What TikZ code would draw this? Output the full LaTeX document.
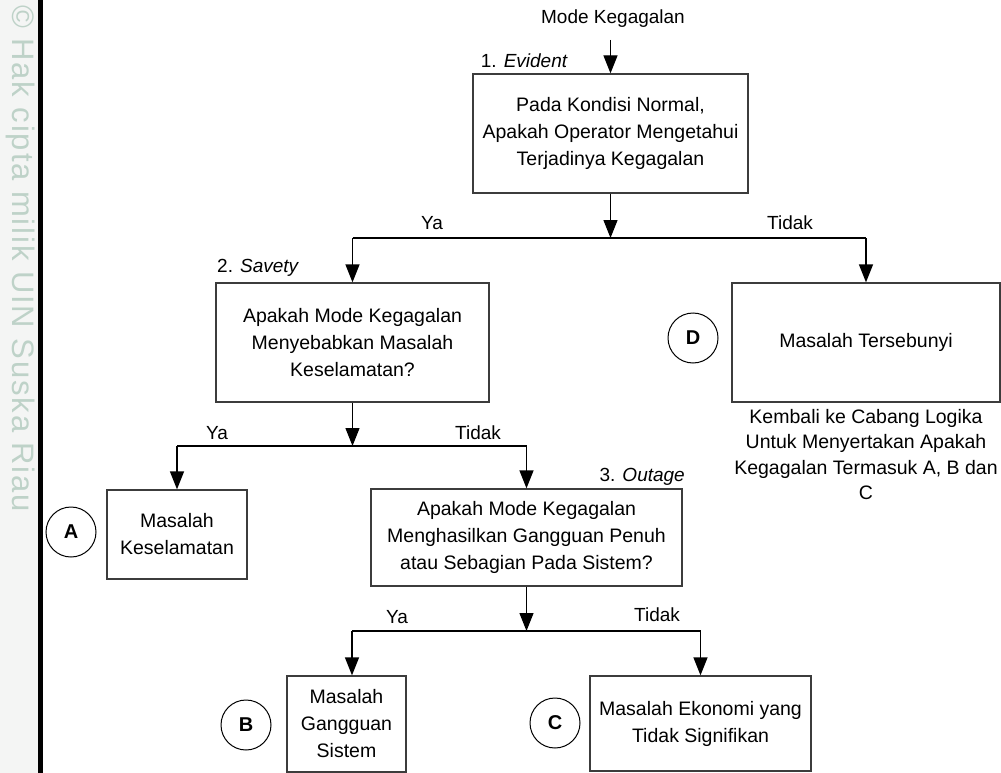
\documentclass[tikz,border=0pt]{standalone}
\usepackage{fontspec}
\setmainfont{Liberation Sans}
\newfontfamily\wmfont[LetterSpace=6]{Liberation Sans}
\usetikzlibrary{arrows.meta,calc}
\definecolor{wmark}{RGB}{190,210,200}
\definecolor{panel}{RGB}{244,245,244}
\definecolor{edge}{RGB}{60,60,60}
\tikzset{
  box/.style={draw=edge,line width=1.3pt,fill=white,align=center,inner sep=2pt,
    font=\fontsize{19.5}{27}\selectfont},
  circ/.style={draw=black,line width=1pt,circle,minimum size=50pt,inner sep=0pt,
    font=\fontsize{20}{22}\selectfont\bfseries},
  lbl/.style={font=\fontsize{19}{22}\selectfont,inner sep=0pt},
  conn/.style={draw=black,line width=1.3pt},
  arr/.style={conn,-{Triangle[length=18pt,width=14pt]}},
}
\begin{document}
\begin{tikzpicture}[x=1pt,y=-1pt]
\useasboundingbox (0,0) rectangle (1001,773);
\fill[white] (0,0) rectangle (1001,773);
% left panel with watermark
\fill[panel] (0,0) rectangle (38,773);
\fill[black] (38,0) rectangle (42.5,773);
\node[text=wmark,rotate=-90,anchor=west,inner sep=0pt,
  font=\wmfont\fontsize{31}{31}\selectfont] (wm) at (21,5) {© Hak cipta milik UIN Suska Riau};

% texts
\node[lbl] (title) at (613,19) {Mode Kegagalan};
\node[lbl,anchor=east] (l1) at (568,61) {1. \textit{Evident}};
\node[lbl,anchor=west] (l2) at (217,268) {2. \textit{Savety}};
\node[lbl,anchor=east] (l3) at (685,477) {3. \textit{Outage}};

% boxes
\node[box,minimum width=275pt,minimum height=119pt] (b1) at (610.5,133.5)
  {Pada Kondisi Normal,\\Apakah Operator Mengetahui\\Terjadinya Kegagalan};
\node[box,minimum width=273pt,minimum height=119pt] (b2) at (352.5,342.5)
  {Apakah Mode Kegagalan\\Menyebabkan Masalah\\Keselamatan?};
\node[box,minimum width=268pt,minimum height=119pt] (bD) at (866,342.5)
  {Masalah Tersebunyi};
\node[box,minimum width=140pt,minimum height=89pt] (bA) at (177,534.5)
  {Masalah\\Keselamatan};
\node[box,minimum width=311pt,minimum height=97pt] (b3) at (526.5,537.5)
  {Apakah Mode Kegagalan\\Menghasilkan Gangguan Penuh\\atau Sebagian Pada Sistem?};
\node[box,minimum width=119pt,minimum height=96pt] (bB) at (346.5,724)
  {Masalah\\Gangguan\\Sistem};
\node[box,minimum width=221pt,minimum height=95pt] (bC) at (700.5,723.5)
  {Masalah Ekonomi yang\\Tidak Signifikan};

\node[lbl,align=center,font=\fontsize{19.5}{25.5}\selectfont,anchor=north] (note) at (866,409)
  {Kembali ke Cabang Logika\\Untuk Menyertakan Apakah\\Kegagalan Termasuk A, B dan\\C};

% circles
\node[circ] (cA) at (71,532) {A};
\node[circ] (cD) at (693,338) {D};
\node[circ] (cB) at (246,725) {B};
\node[circ] (cC) at (555,723) {C};

% connectors
\coordinate (s0) at (610.5,40);
\coordinate (j1) at (610.5,238);
\coordinate (j1L) at (352.5,238);
\coordinate (j1R) at (866,238);
\draw[arr] (s0) -- (b1.north);
\draw[arr] (b1.south) -- (j1);
\draw[conn] (j1L) -- (j1R);
\draw[arr] (j1L) -- (b2.north);
\draw[arr] (j1R) -- (bD.north);

\coordinate (j2) at (352.5,446);
\coordinate (j2L) at (177,446);
\coordinate (j2R) at (526.5,446);
\draw[arr] (b2.south) -- (j2);
\draw[conn] (j2L) -- (j2R);
\draw[arr] (j2L) -- (bA.north);
\draw[arr] (j2R) -- (b3.north);

\coordinate (j3) at (526.5,631);
\coordinate (j3L) at (352,631);
\coordinate (j3R) at (700.5,631);
\draw[arr] (b3.south) -- (j3);
\draw[conn] (j3L) -- (j3R);
\draw[arr] (j3L) -- (j3L |- bB.north);
\draw[arr] (j3R) -- (bC.north);

% branch labels
\node[lbl] (y1) at (432,223) {Ya};
\node[lbl] (t1) at (790,223) {Tidak};
\node[lbl] (y2) at (217,433) {Ya};
\node[lbl] (t2) at (478,433) {Tidak};
\node[lbl] (y3) at (397,617) {Ya};
\node[lbl] (t3) at (657,615) {Tidak};
\end{tikzpicture}
\end{document}
